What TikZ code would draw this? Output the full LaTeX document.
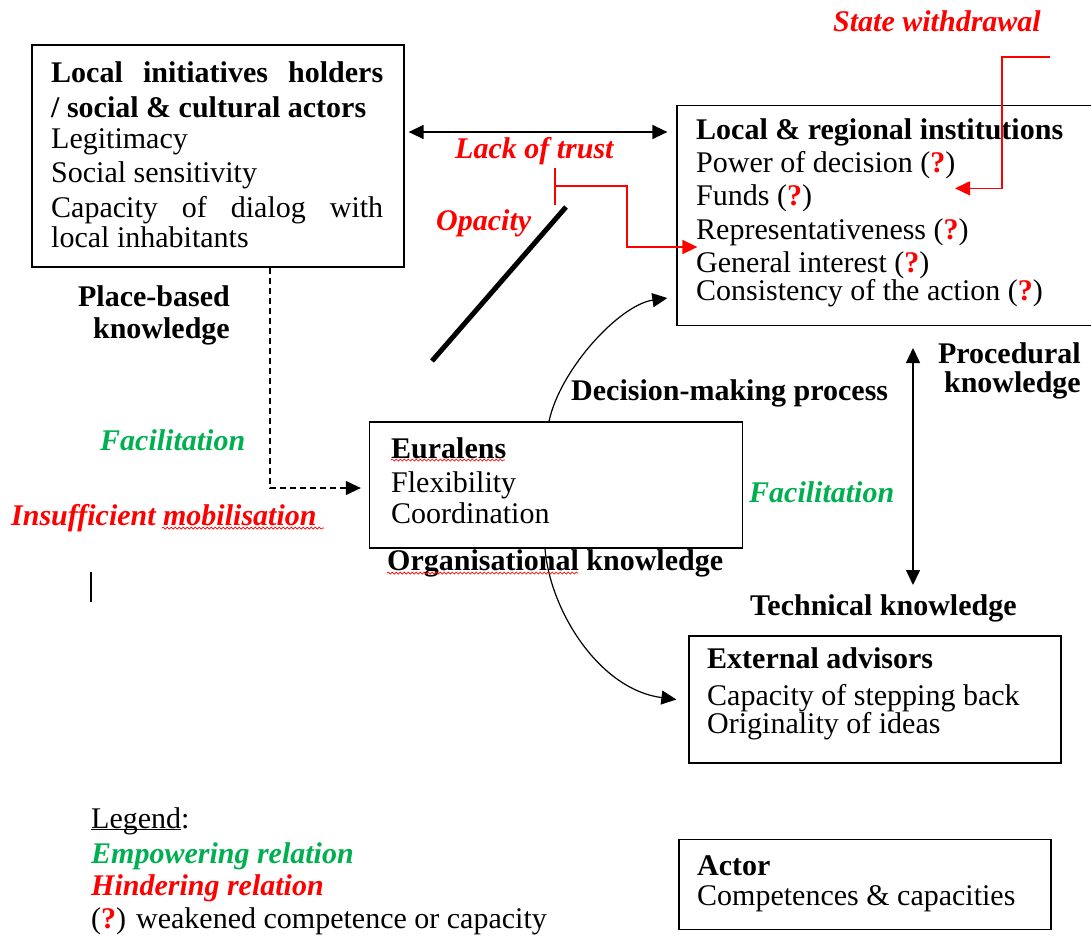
\documentclass[tikz,border=0pt]{standalone}
\usepackage{fontspec}
\setmainfont{Liberation Serif}
\usetikzlibrary{arrows.meta,decorations.pathmorphing}
\definecolor{hinder}{RGB}{255,0,0}
\definecolor{empower}{RGB}{0,176,80}
\newcommand{\weak}{(\textcolor{hinder}{\textbf{?}})}
\tikzset{
	tip/.style={-{Triangle[length=15pt,width=14pt]}},
	twoway/.style={{Triangle[length=15pt,width=14pt]}-{Triangle[length=15pt,width=14pt]},line width=1.5pt},
	hindline/.style={draw=hinder,line width=1.5pt,-{Triangle[length=15pt,width=14pt]}},
	spell/.style={draw=hinder,line width=.7pt,decorate,decoration={snake,amplitude=1pt,segment length=4pt}}
}
\begin{document}
\begin{tikzpicture}[x=1pt,y=-1pt,
	every node/.style={inner sep=0pt,font=\fontsize{30}{33}\selectfont},
	actor/.style={draw,line width=1.3pt,fill=none},
	txt/.style={anchor=base west,align=left},
	know/.style={font=\fontsize{30}{33}\selectfont\bfseries},
	hind/.style={text=hinder,font=\fontsize{30}{33}\selectfont\bfseries\itshape},
	emp/.style={text=empower,font=\fontsize{30}{33}\selectfont\bfseries\itshape}]
	\useasboundingbox (0,0) rectangle (1091,935);
	\node[actor,minimum width=372pt,minimum height=222pt] (holders) at (218,156) {};
	\node[actor,minimum width=423pt,minimum height=220pt] (inst) at (888.5,215.5) {};
	\node[actor,minimum width=373pt,minimum height=126pt] (euralens) at (556,485) {};
	\node[actor,minimum width=372pt,minimum height=127pt] (advisors) at (875,699.5) {};
	\node[actor,minimum width=372pt,minimum height=90pt] (sample) at (865,884.5) {};
	\node[txt] (holderstxt) at (51,247)
		{\makebox[332pt][s]{\bfseries Local initiatives holders}\\[2pt]
		\textbf{/ social \& cultural actors}\\[-2pt]
		Legitimacy\\[1pt]
		Social sensitivity\\[2pt]
		\makebox[332pt][s]{Capacity of dialog with}\\[-3pt]
		local inhabitants};
	\node[txt] (insttxt) at (696,300)
		{\textbf{Local \& regional institutions}\\
		Power of decision \weak\\
		Funds \weak\\[1pt]
		Representativeness \weak\\
		General interest \weak\\[-5pt]
		Consistency of the action \weak};
	\node[txt] (eurtxt) at (391,523)
		{\textbf{Euralens}\\[1pt]
		Flexibility\\[-2pt]
		Coordination};
	\node[txt] (advtxt) at (707,733)
		{\textbf{External advisors}\\[4pt]
		Capacity of stepping back\\[-5pt]
		Originality of ideas};
	\node[txt] (sampletxt) at (697,905)
		{\textbf{Actor}\\[-3pt]
		Competences \& capacities};
	\node[hind,anchor=base west] (withdrawal) at (833,31) {State withdrawal};
	\node[hind,anchor=base west] (distrust) at (455,158) {Lack of trust};
	\node[hind,anchor=base west] (opacity) at (436,230) {Opacity};
	\node[hind,anchor=base west] (mobil) at (11,525) {Insufficient mobilisation};
	\node[know,anchor=base east,align=right] (place) at (230,338) {Place-based\\[-1pt]knowledge};
	\node[know,anchor=base east,align=right] (proc) at (1081,392) {Procedural\\[-4pt]knowledge};
	\node[know,anchor=base west] (decision) at (571,400) {Decision-making process};
	\node[know,anchor=base west] (organis) at (387,570) {Organisational knowledge};
	\node[know,anchor=base west] (technical) at (750,615) {Technical knowledge};
	\node[emp,anchor=base west] (facil1) at (100,450) {Facilitation};
	\node[emp,anchor=base west] (facil2) at (749,502) {Facilitation};
	\node[anchor=base west] (legend) at (91,828) {\underline{\smash{Legend}}:};
	\node[emp,anchor=base west] (legemp) at (91,863) {Empowering relation};
	\node[hind,anchor=base west] (leghind) at (91,895) {Hindering relation};
	\node[anchor=base west] (legweak) at (91,928) {\weak{} weakened competence or capacity};
	\coordinate (withdraw) at (1050,57);
	\coordinate (trustbar) at (554,186);
	\coordinate (procend) at (913,348);
	\coordinate (techend) at (913,585);
	\coordinate (opaqueA) at (432,361);
	\coordinate (opaqueB) at (566,207);
	\draw[twoway,shorten <=4pt,shorten >=9pt] ([yshift=24pt]holders.east) -- ([yshift=24pt]holders.east -| inst.west);
	\draw[tip,dashed,dash pattern=on 6pt off 4pt,line width=1.1pt] ([xshift=52pt]holders.south) |- ([yshift=-3pt,xshift=-8pt]euralens.west);
	\draw[tip,line width=1.2pt] ([xshift=-7pt]euralens.north) .. controls +(11,-52) and +(-48,7) .. ([xshift=-9pt,yshift=-82.5pt]inst.west);
	\draw[tip,line width=1.2pt] ([xshift=-11pt]euralens.south) .. controls +(5,62) and +(-77,-10) .. ([xshift=-12pt]advisors.west);
	\draw[twoway] (procend) -- (techend);
	\draw[hindline] (withdraw) -- ++(-48,0) |- ([xshift=66.5pt,yshift=-83.5pt]inst.north);
	\draw[hindline,{Bar[width=37pt]}-{Triangle[length=15pt,width=14pt]}] (trustbar) -- ++(73,0) |- ([xshift=21pt,yshift=-31.5pt]inst.west);
	\draw[line width=5pt] (opaqueA) -- (opaqueB);
	\draw[spell] ([yshift=63pt]eurtxt.base west) -- ++(114,0);
	\draw[spell] ([yshift=-3pt]organis.base west) -- ++(191,0);
	\draw[spell] ([xshift=151pt,yshift=-3pt]mobil.base west) -- ++(162,0);
	\draw[line width=1.2pt] (91,572) -- (91,602);
\end{tikzpicture}
\end{document}
